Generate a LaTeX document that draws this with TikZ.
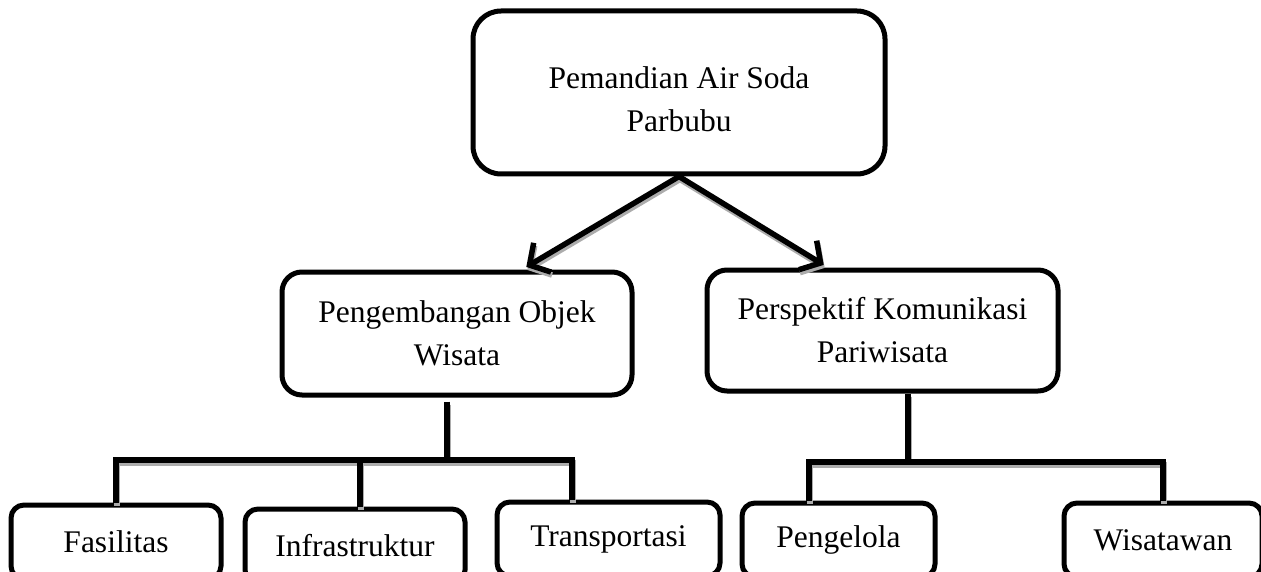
\documentclass[tikz,border=0pt]{standalone}
\usepackage{fontspec}
\setmainfont{Liberation Serif}
\usetikzlibrary{arrows.meta}

\begin{document}
\begin{tikzpicture}[x=1pt, y=-1pt,
  kotak/.style={draw, line width=5pt, align=center, inner sep=0pt, font=\fontsize{31.5}{43}\selectfont},
  garis/.style={line width=5.5pt, preaction={draw=gray!65, line width=5.5pt, transform canvas={xshift=1pt, yshift=-3pt}}},
  panah/.style={garis, shorten >=5pt, -{Straight Barb[length=15pt, width=34pt]}}]
\useasboundingbox (0,0) rectangle (1261,572);
\node[kotak, rounded corners=28pt, minimum width=412pt, minimum height=163pt, text height=79pt] (pemandian) at (679,92.5) {Pemandian Air Soda\\Parbubu};
\node[kotak, rounded corners=20pt, minimum width=350pt, minimum height=123pt] (objek) at (457,333.5) {Pengembangan Objek\\Wisata};
\node[kotak, rounded corners=20pt, minimum width=351pt, minimum height=121pt] (komunikasi) at (882.5,330.5) {Perspektif Komunikasi\\Pariwisata};
\node[kotak, rounded corners=13pt, minimum width=210pt, minimum height=74pt] (fasilitas) at (116,542) {Fasilitas};
\node[kotak, rounded corners=13pt, minimum width=220pt, minimum height=74pt] (infrastruktur) at (355,546) {Infrastruktur};
\node[kotak, rounded corners=13pt, minimum width=223pt, minimum height=74pt] (transportasi) at (608.5,539) {Transportasi};
\node[kotak, rounded corners=13pt, minimum width=193pt, minimum height=74pt] (pengelola) at (838.5,540) {Pengelola};
\node[kotak, rounded corners=13pt, minimum width=198pt, minimum height=74pt] (wisatawan) at (1163,540) {Wisatawan};
% panah dari atas
\draw[panah] (pemandian.south) -- ([xshift=65pt]objek.north);
\draw[panah] (pemandian.south) -- ([xshift=-54.5pt]komunikasi.north);
% cabang kiri
\coordinate (cabangkiri) at (447,460);
\coordinate (turun) at ([xshift=5pt]infrastruktur.north);
\draw[garis, shorten <=4pt] (objek.south -| cabangkiri) -- (cabangkiri);
\draw[garis] (fasilitas.north) |- (cabangkiri) -| ([xshift=-36.5pt]transportasi.north);
\draw[garis] (turun) -- (turun |- cabangkiri);
% cabang kanan
\coordinate (cabangkanan) at (908,462);
\draw[garis] (komunikasi.south -| cabangkanan) -- (cabangkanan);
\draw[garis] ([xshift=-29.5pt]pengelola.north) |- (cabangkanan) -| (wisatawan.north);
\end{tikzpicture}
\end{document}
